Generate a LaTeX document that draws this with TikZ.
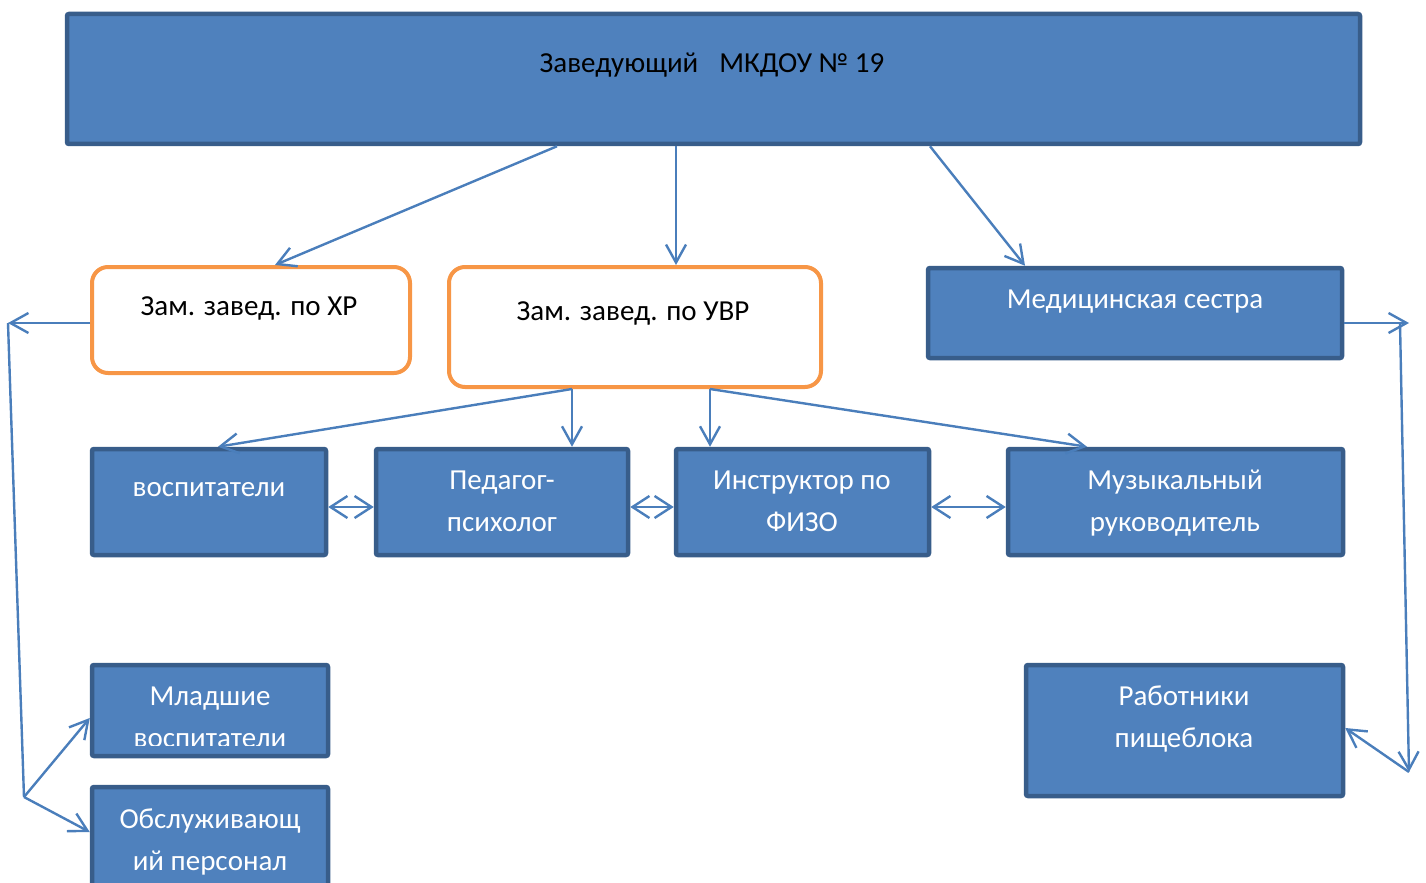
\documentclass[tikz,border=0pt]{standalone}
\usepackage{fontspec}
\setmainfont{Carlito}
\usetikzlibrary{arrows.meta,fit}
\definecolor{boxfill}{HTML}{4F81BD}
\definecolor{boxline}{HTML}{385D8A}
\definecolor{orangeline}{HTML}{F79646}
\definecolor{arrline}{HTML}{4A7EBB}
\tikzset{
  bluebox/.style={draw=boxline, fill=boxfill, line width=2.25pt, rounded corners=1pt, inner sep=0pt},
  orangebox/.style={draw=orangeline, fill=white, line width=2pt, rounded corners=8pt, inner sep=0pt},
  boxtext/.style={anchor=base, align=center, inner sep=0pt, font=\fontsize{14.5}{20.75}\selectfont},
  whitetext/.style={boxtext, text=white},
  arr/.style={draw=arrline, line width=1.2pt, -{Straight Barb[length=9pt,width=10pt]}},
  dblarr/.style={draw=arrline, line width=1.2pt, {Straight Barb[length=8.5pt,width=11pt]}-{Straight Barb[length=8.5pt,width=11pt]}},
  plainline/.style={draw=arrline, line width=1.2pt}
}

\begin{document}
\begin{tikzpicture}[x=0.5pt, y=-0.5pt]
			%%%%% START %%%%%
			\clip (0,0) rectangle (1426,883);

			% head
			\node[bluebox, fit={(67,14) (1360,144)}] (head) {};
			\node[boxtext] (head-t) at (712,73) {Заведующий\hspace{10.5pt}МКДОУ № 19};

			% deputies and nurse
			\node[orangebox, fit={(92,267) (410,373)}] (xr) {};
			\node[boxtext] (xr-t) at (249,315) {Зам. завед. по ХР};
			\node[orangebox, fit={(449,267) (821,387)}] (uvr) {};
			\node[boxtext] (uvr-t) at (633,321) {Зам. завед. по УВР};
			\node[bluebox, fit={(928,268) (1342,358)}] (med) {};
			\node[whitetext] (med-t) at (1135,308) {Медицинская сестра};

			% teaching staff (two-line texts sit on their last baseline)
			\node[bluebox, fit={(92,449) (326,555)}] (vosp) {};
			\node[whitetext] (vosp-t) at (209,496) {воспитатели};
			\node[bluebox, fit={(376,449) (628,555)}] (ped) {};
			\node[whitetext] (ped-t) at (502,531) {Педагог-\\психолог};
			\node[bluebox, fit={(676,449) (929,555)}] (instr) {};
			\node[whitetext] (instr-t) at (802,531) {Инструктор по\\ФИЗО};
			\node[bluebox, fit={(1008,449) (1343,555)}] (muz) {};
			\node[whitetext] (muz-t) at (1175,531) {Музыкальный\\руководитель};

			% support staff
			\node[bluebox, fit={(92,665) (328,756)}] (mlad) {};
			\begin{scope}
				\clip (92,665) rectangle (328,745);
				\node[whitetext] (mlad-t) at (210,747) {Младшие\\воспитатели};
			\end{scope}
			\node[bluebox, fit={(92,787) (328,900)}] (obsl) {};
			\node[whitetext] (obsl-t) at (210,870) {Обслуживающ\\ий персонал};
			\node[bluebox, fit={(1026,665) (1343,796)}] (rab) {};
			\node[whitetext] (rab-t) at (1184,747) {Работники\\пищеблока};

			% from head
			\draw[arr] (head.south -| 557,0) -- (xr.north -| 275,0);
			\draw[arr] (head.south -| 676,0) -- (uvr.north -| 676,0);
			\draw[arr] (head.south -| 930,0) -- (med.north -| 1025,0);

			% from УВР
			\draw[arr] (uvr.south -| 572,0) -- (vosp.north -| 218,0);
			\draw[arr] (uvr.south -| 572,0) -- (ped.north -| 572,0);
			\draw[arr] (uvr.south -| 710,0) -- (instr.north -| 710,0);
			\draw[arr] (uvr.south -| 710,0) -- (muz.north -| 1087,0);

			\draw[dblarr] (vosp.east |- 0,507) -- (ped.west |- 0,507);
			\draw[dblarr] (ped.east |- 0,507) -- (instr.west |- 0,507);
			\draw[dblarr] (instr.east |- 0,507) -- (muz.west |- 0,507);

			% left side
			\coordinate (lt) at (8,323);
			\coordinate (lb) at (24,797);
			\draw[arr] (xr.west |- 0,323) -- (lt);
			\draw[plainline] (lt) -- (lb);
			\draw[arr] (lb) -- (mlad.west |- 0,718);
			\draw[arr] (lb) -- (obsl.west |- 0,832);

			% right side
			\coordinate (rt) at (1409,323);
			\coordinate (rs) at (1400,323);
			\coordinate (rb) at (1409,772);
			\draw[arr] (med.east |- 0,323) -- (rt);
			\draw[arr] (rs) -- (rb);
			\draw[arr] (rb) -- (rab.east |- 0,728);
			%%%%% END %%%%%
\end{tikzpicture}
\end{document}
